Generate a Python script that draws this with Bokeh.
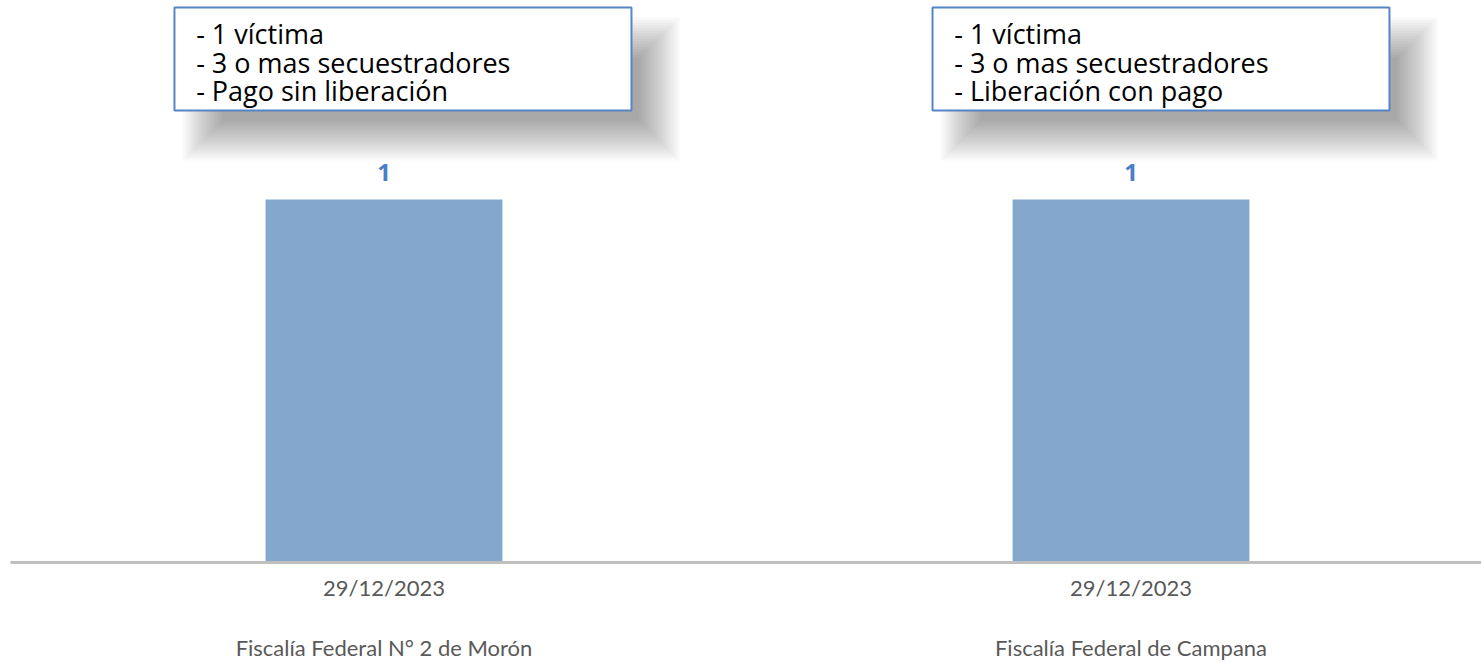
from bokeh.plotting import figure
from bokeh.models import Range1d, FixedTicker, LinearAxis, ColumnDataSource
from bokeh.core.properties import value
from bokeh.embed import file_html
from bokeh.resources import INLINE

# ---- data ----
fiscalias = ["Fiscalía Federal N° 2 de Morón", "Fiscalía Federal de Campana"]
fechas = ["29/12/2023", "29/12/2023"]
casos = [1, 1]
notas = [
    ["- 1 víctima", "- 3 o mas secuestradores", "- Pago sin liberación"],
    ["- 1 víctima", "- 3 o mas secuestradores", "- Liberación con pago"],
]

# ---- category positions ----
xpos = [i + 0.5 for i in range(len(fiscalias))]

W, H = 1481, 663
PXX = 747.0   # px per x unit
PXY = 363.0   # px per y unit
p = figure(width=W, height=H, output_backend="svg", toolbar_location=None,
           x_range=Range1d(0, 1471 / PXX), y_range=Range1d(0, 562 / PXY),
           y_axis_location=None, x_axis_location=None,
           min_border_left=10, min_border_right=0, min_border_top=0,
           min_border_bottom=101)
p.outline_line_color = None
p.xgrid.visible = False
p.ygrid.visible = False

# annotation boxes (relative to bar centres)
box_dx = [(-0.2805, 0.3313), (-0.2657, 0.346)]
box_top, box_bot = 1.529, 1.245

# soft drop shadow
N = 16
blur = 20.0
offx, offy = 28.0, 30.0
for k in range(N):
    e = -blur + 2 * blur * k / (N - 1)
    for xc, (l, r) in zip(xpos, box_dx):
        p.quad(left=xc + l + (offx - e) / PXX, right=xc + r + (offx + e) / PXX,
               top=box_top - (offy - e) / PXY, bottom=box_bot - (offy + e) / PXY,
               fill_color="black", fill_alpha=0.022, line_color=None)

for xc, (l, r) in zip(xpos, box_dx):
    p.quad(left=xc + l, right=xc + r, top=box_top, bottom=box_bot,
           fill_color="white", line_color="#5585C5", line_width=2)

line_y = [1.457, 1.377, 1.300]
for xc, (l, r), lines in zip(xpos, box_dx, notas):
    src = ColumnDataSource(dict(x=[xc + l + 0.029] * len(lines), y=line_y, t=lines))
    p.text(x="x", y="y", text="t", source=src, text_font=value("Open Sans"),
           text_font_size="27px", text_color="black", text_baseline="middle",
           text_align="left")

# bars
src = ColumnDataSource(dict(x=xpos, top=casos, lab=[str(c) for c in casos],
                            ly=[c + 0.074 for c in casos]))
p.vbar(x="x", top="top", bottom=0, width=0.317, source=src,
       fill_color="#84A7CE", line_color=None)
p.text(x="x", y="ly", text="lab", source=src, text_font=value("Open Sans"),
       text_font_size="24px", text_font_style="bold", text_color="#4A7EC7",
       text_align="center", text_baseline="middle")

# category axis: date + fiscalía
ax = LinearAxis(ticker=FixedTicker(ticks=xpos),
                major_label_overrides={x: f"{d}\n\n{f}" for x, d, f in zip(xpos, fechas, fiscalias)})
ax.axis_line_color = "#BFBFBF"
ax.axis_line_width = 3
ax.major_tick_line_color = None
ax.minor_tick_line_color = None
ax.major_tick_out = 0
ax.minor_tick_out = 0
ax.major_label_standoff = 11
ax.major_label_text_font = "Lato"
ax.major_label_text_font_size = "22px"
ax.major_label_text_line_height = 1.117
ax.major_label_text_color = "#595959"
p.add_layout(ax, "below")

open("out.html", "w").write(file_html(p, INLINE))
